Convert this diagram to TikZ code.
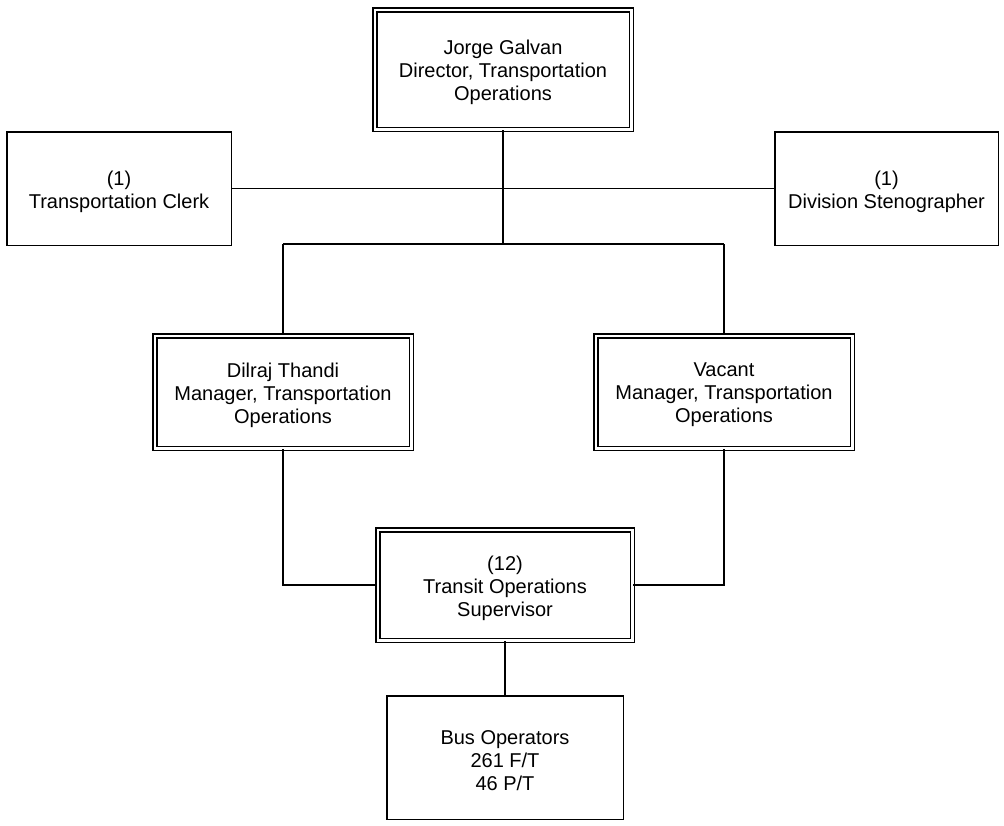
\documentclass[tikz,border=0pt]{standalone}
\usepackage{fontspec}
\setmainfont{Liberation Sans}
\begin{document}
\begin{tikzpicture}[x=1pt,y=-1pt,
  txt/.style={align=center,font=\fontsize{20}{23}\selectfont,inner sep=0pt,yshift=-3pt},
  single/.style={draw=black,line width=1.5pt,rectangle,inner sep=0pt},
  dbl/.style={draw=black,line width=1.5pt,double=white,double distance=2.5pt,rectangle,inner sep=0pt},
  conn/.style={draw=black,line width=1.8pt}]
\useasboundingbox (0,0) rectangle (1004,825);
% single boxes: size = outer extent - line width
\node[single,minimum width=224.5pt,minimum height=113.5pt] (clerk) at (119,188.5) {};
\node[single,minimum width=223.5pt,minimum height=113.5pt] (steno) at (886.5,188.5) {};
\node[single,minimum width=236.5pt,minimum height=123.5pt] (bus) at (505,757.5) {};
% double boxes: size = outer extent - 5.5
\node[dbl,minimum width=256.5pt,minimum height=119.5pt] (dir) at (503,69.5) {};
\node[dbl,minimum width=256.5pt,minimum height=112.5pt] (mgr1) at (283,392) {};
\node[dbl,minimum width=256.5pt,minimum height=112.5pt] (mgr2) at (724,392) {};
\node[dbl,minimum width=254.5pt,minimum height=110.5pt] (sup) at (505,585) {};
% texts
\node[txt] (clerkT) at (clerk) {(1)\\Transportation Clerk};
\node[txt] (stenoT) at (steno) {(1)\\Division Stenographer};
\node[txt] (busT) at (bus) {Bus Operators\\261 F/T\\46 P/T};
\node[txt] (dirT) at (dir) {Jorge Galvan\\Director, Transportation\\Operations};
\node[txt] (mgr1T) at (mgr1) {Dilraj Thandi\\Manager, Transportation\\Operations};
\node[txt] (mgr2T) at (mgr2) {Vacant\\Manager, Transportation\\Operations};
\node[txt] (supT) at (sup) {(12)\\Transit Operations\\Supervisor};
% connectors
\coordinate (j2) at (503,244);
\draw[conn] (dir.south) -- (j2);
\draw[conn] (clerk.east) -- (steno.west);
\draw[conn] (mgr1.north |- j2) -- (mgr2.north |- j2);
\draw[conn] (mgr1.north |- j2) -- (mgr1.north);
\draw[conn] (mgr2.north |- j2) -- (mgr2.north);
\draw[conn] (mgr1.south) -- (mgr1.south |- sup.west) -- (sup.west);
\draw[conn] (mgr2.south) -- (mgr2.south |- sup.east) -- (sup.east);
\draw[conn] (sup.south -| bus.north) -- (bus.north);
\end{tikzpicture}
\end{document}
